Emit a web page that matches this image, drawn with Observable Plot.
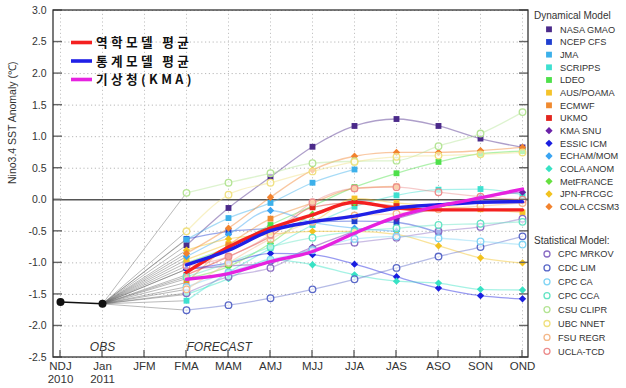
<!DOCTYPE html>
<html><head><meta charset="utf-8">
<script src="https://cdn.jsdelivr.net/npm/d3@7"></script>
<script src="https://cdn.jsdelivr.net/npm/@observablehq/plot@0.6"></script>
<style>body{margin:0;background:#fff;} #chart{width:626px;height:388px;}</style>
</head><body><div id="chart"></div>
<script>
// ---------- data ----------
const seasons = ["NDJ","Jan","JFM","FMA","MAM","AMJ","MJJ","JJA","JAS","ASO","SON","OND"];
const seasonLabels = ["NDJ\n2010","Jan\n2011","JFM","FMA","MAM","AMJ","MJJ","JJA","JAS","ASO","SON","OND"];
const forecastSeasons = ["FMA","MAM","AMJ","MJJ","JJA","JAS","ASO","SON","OND"];
const obsSeasons = ["NDJ","Jan"];
const obsValues = [-1.62, -1.65];
const yTicks = [3.0,2.5,2.0,1.5,1.0,0.5,0.0,-0.5,-1.0,-1.5,-2.0,-2.5];
const yLabel = "Nino3.4 SST Anomaly (\u2103)";

// dynamical models (values FMA..OND)
const dynNames  = ["NASA GMAO","NCEP CFS","JMA","SCRIPPS","LDEO","AUS/POAMA","ECMWF","UKMO","KMA SNU","ESSIC ICM","ECHAM/MOM","COLA ANOM","MetFRANCE","JPN-FRCGC","COLA CCSM3"];
const dynColors = ["#4b2a8a","#1f3fd0","#3cb0ea","#3ee0d0","#4ee04a","#f5c32a","#f08a30","#e3261e","#6a22a8","#1a1ee0","#3aa4f2","#38e2c4","#66e040","#f2c21e","#f2822e"];
const dynSymbols = ["square","square","square","square","square","square","square","square","diamond2","diamond2","diamond2","diamond2","diamond2","diamond2","diamond2"];
const nasaGmao  = [-0.72,-0.13, 0.36, 0.84, 1.17, 1.28, 1.17, 0.97, 0.83];
const ncepCfs   = [-0.62,-0.50,-0.45,-0.35,-0.34,-0.36,-0.52, null, null];
const jma       = [-0.63,-0.29,-0.05, 0.27, 0.48, null, null, null, null];
const scripps   = [-1.60,-1.15,-0.77,-0.40,-0.11, 0.07, 0.16, 0.17, 0.08];
const ldeo      = [-1.00,-0.75,-0.40,-0.10, 0.20, 0.42, 0.60, 0.73, 0.77];
const ausPoama  = [-0.95,-0.70,-0.47,-0.35, 0.02,-0.05,-0.10,-0.15,-0.20];
const ecmwf     = [-1.31,-0.72,-0.30,-0.05, 0.18, 0.21, null, null, null];
const ukmo      = [-1.19,-0.90,-0.58,-0.12,-0.05,-0.10, null, null, null];
const kmaSnu    = [-1.10,-1.05,-1.00,-0.75,-0.50,-0.30,-0.12, 0.04, 0.12];
const essicIcm  = [-1.10,-1.00,-0.85,-0.87,-1.02,-1.22,-1.40,-1.52,-1.57];
const echamMom  = [-0.90,-0.55,-0.17,-0.36,-0.45,-0.50, null, null, null];
const colaAnom  = [-1.50,-1.25,-0.95,-1.03,-1.19,-1.29,-1.32,-1.42,-1.43];
const metFrance = [-1.25,-1.06,-0.69,-0.23,-0.05, null, null, null, null];
const jpnFrcgc  = [-0.80,-0.62,-0.55,-0.50,-0.50,-0.55,-0.73,-0.92,-1.00];
const colaCcsm3 = [-0.85,-0.45, 0.04, 0.47, 0.69, 0.75, 0.75, 0.78, 0.83];
const dynValues = [nasaGmao,ncepCfs,jma,scripps,ldeo,ausPoama,ecmwf,ukmo,kmaSnu,essicIcm,echamMom,colaAnom,metFrance,jpnFrcgc,colaCcsm3];

// statistical models
const statNames  = ["CPC MRKOV","CDC LIM","CPC CA","CPC CCA","CSU CLIPR","UBC NNET","FSU REGR","UCLA-TCD"];
const statColors = ["#8a6cc4","#5a68c8","#80d4f4","#64e4c4","#b4e494","#f0e080","#f4b88a","#ec8c8c"];
const cpcMrkov = [-1.48,-1.22,-1.08,-0.78,-0.68,-0.60,-0.50,-0.43,-0.30];
const cdcLim   = [-1.75,-1.67,-1.56,-1.42,-1.26,-1.08,-0.90,-0.75,-0.58];
const cpcCa    = [-1.38,-1.15,-0.95,-0.80,-0.62,-0.58,-0.61,-0.66,-0.71];
const cpcCca   = [-1.22,-1.00,-0.75,-0.60,-0.50,-0.45,-0.40,-0.38,-0.35];
const csuClipr = [ 0.11, 0.27, 0.42, 0.58, 0.61, 0.62, 0.85, 1.05, 1.39];
const ubcNnet  = [-0.50, 0.08, 0.27, 0.45, 0.60, 0.68, 0.70, 0.72, 0.75];
const fsuRegr  = [-1.42,-1.00,-0.62,-0.35,-0.25,-0.22,-0.15,-0.10,-0.05];
const uclaTcd  = [-1.05,-0.90,-0.55,-0.04, 0.18, 0.20, 0.12, 0.05, 0.00];
const statValues = [cpcMrkov,cdcLim,cpcCa,cpcCca,csuClipr,ubcNnet,fsuRegr,uclaTcd];

// averages
const meanNames  = ["역학모델 평균","통계모델 평균","기상청(KMA)"];
const meanColors = ["#f42020","#2020e6","#e622e0"];
const dynMean  = [-1.15,-0.75,-0.45,-0.24,-0.04,-0.13,-0.16,-0.16,-0.16];
const statMean = [-1.03,-0.80,-0.49,-0.35,-0.26,-0.13,-0.08,-0.04,-0.03];
const kmaMean  = [-1.26,-1.17,-0.98,-0.82,-0.53,-0.27,-0.10, 0.03, 0.17];
const meanValues = [dynMean, statMean, kmaMean];

// ---------- tables ----------
const models = [
  ...dynNames.map((n,i)=>({name:n, color:dynColors[i], symbol:dynSymbols[i], kind:"dyn", values:dynValues[i]})),
  ...statNames.map((n,i)=>({name:n, color:statColors[i], symbol:"circle", kind:"stat", values:statValues[i]}))
];
const rows = models.flatMap(m => m.values.map((v,i)=>({model:m.name, color:m.color, symbol:m.symbol, kind:m.kind, season:forecastSeasons[i], value:v})).filter(d=>d.value!=null));
const connectors = models.flatMap(m => [
  {model:m.name, season:obsSeasons[1], value:obsValues[1]},
  {model:m.name, season:forecastSeasons[0], value:m.values[0]}
]);
const meanRows = meanNames.flatMap((n,k)=>meanValues[k].map((v,i)=>({model:n, color:meanColors[k], season:forecastSeasons[i], value:v})));
const obsRows = obsSeasons.map((s,i)=>({season:s, value:obsValues[i]}));
const labelOf = Object.fromEntries(seasons.map((s,i)=>[s, seasonLabels[i]]));

const font = "'Liberation Sans', Arial, sans-serif";
const W = 626, H = 388, mL = 53, mR = 98, mT = 10, mB = 31;

const plot = Plot.plot({
  width: W, height: H,
  marginLeft: mL, marginRight: mR, marginTop: mT, marginBottom: mB,
  x: {type: "point", domain: seasons, padding: 0.1, axis: null},
  y: {domain: [-2.5, 3.0], axis: null},
  color: {type: "identity"},
  style: {fontFamily: font, background: "#fff", overflow: "visible"},
  marks: [
    Plot.ruleY(yTicks.filter(d=>d!==0), {stroke:"#b8b8b8", strokeDasharray:"1.2,2.6", strokeWidth:1}),
    Plot.ruleX(seasons, {stroke:"#c4c4c4", strokeDasharray:"1.2,2.6", strokeWidth:1}),
    Plot.ruleY([0], {stroke:"#555", strokeWidth:1.6}),
    Plot.line(connectors, {x:"season", y:"value", z:"model", stroke:"#666", strokeWidth:0.7, strokeOpacity:0.65}),
    Plot.line(rows, {x:"season", y:"value", z:"model", stroke:"color", strokeWidth:1.3, strokeOpacity:0.45, curve:"monotone-x"}),
    Plot.dot(rows.filter(d=>d.kind==="dyn"), {x:"season", y:"value", symbol:"symbol", fill:"color", r:3.3, stroke:"none"}),
    Plot.dot(rows.filter(d=>d.kind==="stat"), {x:"season", y:"value", fill:"#fff", fillOpacity:0.6, stroke:"color", strokeWidth:1.3, r:3.3}),
    Plot.line(meanRows, {x:"season", y:"value", z:"model", stroke:"color", strokeWidth:3.4, curve:"monotone-x"}),
    Plot.line(obsRows, {x:"season", y:"value", stroke:"#111", strokeWidth:1.5}),
    Plot.dot(obsRows, {x:"season", y:"value", fill:"#111", r:4}),
    // tick labels
    Plot.text(yTicks, {y:d=>d, frameAnchor:"left", dx:-7, textAnchor:"end", text:d=>d.toFixed(1), fontSize:10.5, fill:"#333"}),
    Plot.text(seasons, {x:d=>d, frameAnchor:"bottom", dy:3, lineAnchor:"top", text:d=>labelOf[d], fontSize:11.5, lineHeight:1.15, fill:"#333"}),
    Plot.text([yLabel], {frameAnchor:"left", dx:-41, rotate:-90, text:d=>d, fontSize:10.5, fill:"#333"}),
    // annotations
    Plot.text(["OBS"], {x:()=>"Jan", y:()=>-2.34, text:d=>d, fontSize:12, fontStyle:"italic", fill:"#333"}),
    Plot.text(["FORECAST"], {x:()=>"FMA", y:()=>-2.34, text:d=>d, textAnchor:"start", fontSize:12, fontStyle:"italic", fill:"#333"})
  ]
});
document.getElementById("chart").appendChild(plot);

// ---------- frame, inward ticks (from Plot's scales) ----------
const svg = d3.select(plot);
const xs = plot.scale("x"), ys = plot.scale("y");
const [x0, x1] = [mL, W - mR];
const [yb, yt] = [H - mB, mT];
const ax = svg.append("g").attr("stroke", "#666").attr("stroke-width", 1.4);
yTicks.forEach(v => {
  const y = ys.apply(v);
  ax.append("line").attr("x1", x0).attr("x2", x0 + 9).attr("y1", y).attr("y2", y);
  ax.append("line").attr("x1", x1 - 9).attr("x2", x1).attr("y1", y).attr("y2", y);
});
seasons.forEach(s => {
  const x = xs.apply(s);
  ax.append("line").attr("x1", x).attr("x2", x).attr("y1", yb - 7).attr("y2", yb);
});
svg.append("rect").attr("x", x0).attr("y", yt).attr("width", x1 - x0).attr("height", yb - yt)
  .attr("fill", "none").attr("stroke", "#333").attr("stroke-width", 1.3);

// ---------- legends ----------
const lg = svg.append("g").attr("font-family", "'Noto Sans CJK KR', sans-serif").attr("font-weight", "bold").attr("text-anchor", "start");
meanNames.forEach((n,k)=>{
  const y = 42.5 + k*18.5;
  lg.append("line").attr("x1",71).attr("x2",92).attr("y1",y).attr("y2",y).attr("stroke",meanColors[k]).attr("stroke-width",3.6);
  lg.append("text").attr("x",96).attr("y",y).attr("dy","0.36em").attr("font-size",12.6).attr("letter-spacing","3.4px").attr("fill","#111").text(n);
});
const rg = svg.append("g").attr("font-family", font).attr("font-size", 9.2).attr("fill", "#333").attr("text-anchor", "start");
rg.append("text").attr("x",534).attr("y",15).attr("dy","0.35em").attr("font-size",10).text("Dynamical Model");
dynNames.forEach((n,i)=>{
  const y = 29.3 + i*12.67;
  const sym = dynSymbols[i]==="square" ? d3.symbolSquare : d3.symbolDiamond2;
  rg.append("path").attr("d", d3.symbol(sym, 34)()).attr("transform",`translate(549,${y})`).attr("fill", dynColors[i]);
  rg.append("text").attr("x",560).attr("y",y).attr("dy","0.35em").text(n);
});
rg.append("text").attr("x",534).attr("y",240).attr("dy","0.35em").attr("font-size",10).text("Statistical Model:");
statNames.forEach((n,i)=>{
  const y = 254 + i*13.9;
  rg.append("circle").attr("cx",547).attr("cy",y).attr("r",3).attr("fill","none").attr("stroke",statColors[i]).attr("stroke-width",1.3);
  rg.append("text").attr("x",558).attr("y",y).attr("dy","0.35em").text(n);
});
</script>
</body></html>
